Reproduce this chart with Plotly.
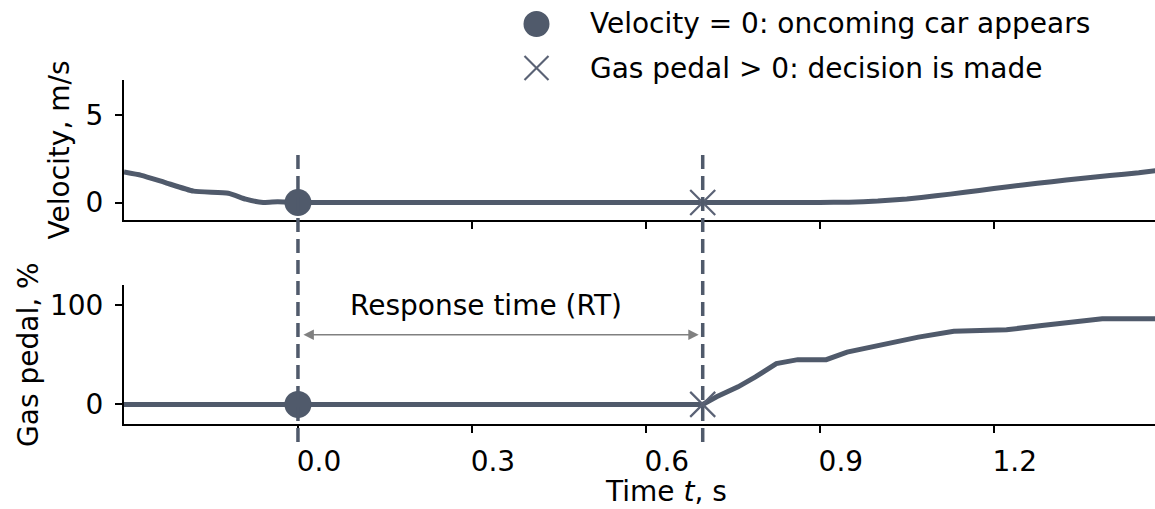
import plotly.graph_objects as go

# ---------------- data ----------------
t_vel = [-0.30, -0.27, -0.23, -0.18, -0.12, -0.09, -0.06, -0.035, 0.0, 0.3, 0.6,
         0.90, 0.95, 1.00, 1.05, 1.10, 1.15, 1.20, 1.25, 1.30, 1.35, 1.40, 1.45, 1.48]
velocity = [1.74, 1.55, 1.15, 0.65, 0.53, 0.19, 0.0, 0.04, 0.0, 0.0, 0.0,
            0.0, 0.02, 0.08, 0.20, 0.38, 0.58, 0.80, 1.00, 1.19, 1.37, 1.54, 1.70, 1.82]

t_gas = [-0.30, 0.0, 0.698, 0.722, 0.759, 0.789, 0.825, 0.862, 0.911, 0.947,
         1.027, 1.07, 1.131, 1.222, 1.283, 1.387, 1.48]
gas = [0, 0, 0, 7.6, 17.6, 27.6, 41, 45, 45, 52.6,
       62.6, 67.6, 73.6, 75, 79.3, 86, 86]

t_appear = 0.0      # velocity = 0: oncoming car appears
t_decision = 0.698  # gas pedal > 0: decision is made

x_ticks = [0.0, 0.3, 0.6, 0.9, 1.2]
x_ticklabels = ["0.0", "0.3", "0.6", "0.9", "1.2"]
vel_ticks = [0, 5]
gas_ticks = [0, 100]

legend_labels = ["Velocity = 0: oncoming car appears",
                 "Gas pedal > 0: decision is made"]

# ---------------- style ----------------
W, H = 1155, 509
C = "#505a6b"
CX = "#5a6275"
FONT = "DejaVu Sans"
FS = 28


def px(xp):
    return xp / W


def py(yp):
    return 1 - yp / H


fig = go.Figure()

fig.add_trace(go.Scatter(x=t_vel, y=velocity, mode="lines", xaxis="x", yaxis="y",
                         line=dict(color=C, width=5, shape="spline", smoothing=0.5),
                         showlegend=False))
fig.add_trace(go.Scatter(x=t_gas, y=gas, mode="lines", xaxis="x2", yaxis="y2",
                         line=dict(color=C, width=5), showlegend=False))

for xa, ya in (("x", "y"), ("x2", "y2")):
    fig.add_trace(go.Scatter(x=[t_appear], y=[0], mode="markers", xaxis=xa, yaxis=ya,
                             marker=dict(symbol="circle", size=27, color=C),
                             showlegend=False))
    fig.add_trace(go.Scatter(x=[t_decision], y=[0], mode="markers", xaxis=xa, yaxis=ya,
                             marker=dict(symbol="x-thin", size=25, color=CX,
                                         line=dict(color=CX, width=2.2)),
                             showlegend=False))

shapes = []
# dashed vertical event lines spanning both panels
for t in (t_appear, t_decision):
    shapes.append(dict(type="line", xref="x2", yref="paper", x0=t, x1=t,
                       y0=py(442), y1=py(150),
                       line=dict(color=C, width=3.5, dash="14px,7px")))

# legend glyphs
shapes.append(dict(type="circle", xref="paper", yref="paper",
                   xsizemode="pixel", ysizemode="pixel",
                   xanchor=px(536.5), yanchor=py(24),
                   x0=-13, x1=13, y0=-13, y1=13,
                   fillcolor=C, line=dict(width=0)))
for sgn in (1, -1):
    shapes.append(dict(type="line", xref="paper", yref="paper",
                       xsizemode="pixel", ysizemode="pixel",
                       xanchor=px(536.5), yanchor=py(68),
                       x0=-12, x1=12, y0=-12 * sgn, y1=12 * sgn,
                       line=dict(color=CX, width=2.2)))

annotations = [
    dict(xref="paper", yref="paper", x=px(588), y=py(24), text=legend_labels[0],
         showarrow=False, xanchor="left", yanchor="middle",
         font=dict(family=FONT, size=FS, color="black")),
    dict(xref="paper", yref="paper", x=px(588), y=py(68), text=legend_labels[1],
         showarrow=False, xanchor="left", yanchor="middle",
         font=dict(family=FONT, size=FS, color="black")),
    # response-time double arrow
    dict(xref="x2", yref="y2", x=t_decision, y=70, axref="x2", ayref="y2",
         ax=t_appear, ay=70, text="", showarrow=True, arrowside="end+start",
         arrowhead=2, arrowsize=1.3, arrowwidth=1.6, arrowcolor="#808080",
         standoff=4, startstandoff=4),
    dict(xref="paper", yref="paper", x=px(486), y=py(305), text="Response time (RT)",
         showarrow=False, xanchor="center", yanchor="middle",
         font=dict(family=FONT, size=FS, color="black")),
    dict(xref="paper", yref="paper", x=px(666), y=0, text="Time <i>t</i>, s",
         showarrow=False, xanchor="center", yanchor="bottom", borderpad=0,
         font=dict(family=FONT, size=FS, color="black")),
]

axis_common = dict(showgrid=False, zeroline=False, showline=True, linecolor="black",
                   linewidth=2, ticks="outside", ticklen=7, tickwidth=1.6,
                   tickcolor="black", tickfont=dict(family=FONT, size=FS, color="black"))

x_dom = [px(124), 1.0]
fig.update_layout(
    width=W, height=H,
    margin=dict(l=0, r=0, t=0, b=0),
    paper_bgcolor="white", plot_bgcolor="white",
    font=dict(family=FONT, size=FS, color="black"),
    showlegend=False,
    xaxis=dict(domain=x_dom, anchor="y", range=[-0.3, 1.478], tickvals=x_ticks,
               showticklabels=False, **axis_common),
    xaxis2=dict(domain=x_dom, anchor="y2", range=[-0.3, 1.478], tickvals=x_ticks,
                ticktext=x_ticklabels, matches="x", ticklabelshift=21,
                ticklabelstandoff=4, **axis_common),
    yaxis=dict(domain=[py(220), py(80)], anchor="x", range=[-1, 7], tickvals=vel_ticks,
               ticklabelstandoff=6,
               title=dict(text="Velocity, m/s", standoff=8,
                          font=dict(family=FONT, size=FS, color="black")),
               **axis_common),
    yaxis2=dict(domain=[py(424.3), py(285)], anchor="x2", range=[-20, 120],
                tickvals=gas_ticks, ticklabelstandoff=6,
                title=dict(text="Gas pedal, %", standoff=3,
                           font=dict(family=FONT, size=FS, color="black")),
                **axis_common),
    shapes=shapes,
    annotations=annotations,
)

fig.write_html("out.html")
